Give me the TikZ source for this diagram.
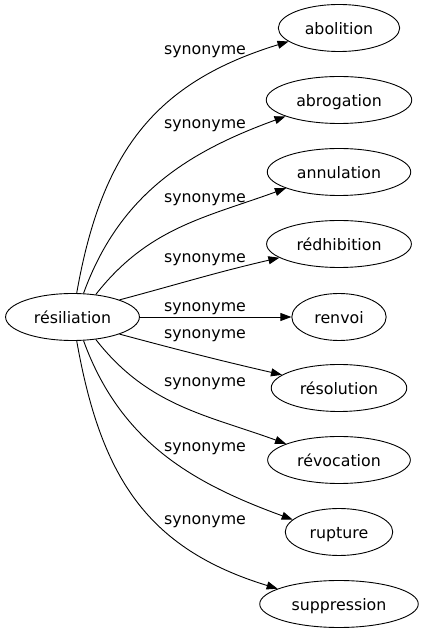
\documentclass[tikz,border=0pt]{standalone}
\usepackage{fontspec}
\setmainfont{DejaVu Sans}
\usetikzlibrary{shapes.geometric}
\usetikzlibrary{arrows.meta}

\begin{document}
\begin{tikzpicture}[x=1pt,y=1pt,
  mot/.style={draw,ellipse,line width=0.9pt,inner xsep=8.7pt,inner ysep=2pt,minimum height=47pt,text height=12.6pt,text depth=0pt,font=\fontsize{15.8}{19}\selectfont},
  syn/.style={-{Triangle[length=11pt,width=8pt]},line width=0.9pt},
  etiq/.style={anchor=base,inner sep=0pt,font=\fontsize{15.8}{19}\selectfont}]
\useasboundingbox (0,0) rectangle (421,635);

\node[mot] (resiliation) at (72.5,318) {résiliation};
\node[mot] (abolition) at (339,607) {abolition};
\node[mot] (abrogation) at (339,535) {abrogation};
\node[mot] (annulation) at (339,463) {annulation};
\node[mot] (redhibition) at (339,391) {rédhibition};
\node[mot] (renvoi) at (339,318) {renvoi};
\node[mot] (resolution) at (339,247) {résolution};
\node[mot] (revocation) at (339,175) {révocation};
\node[mot] (rupture) at (339,103) {rupture};
\node[mot] (suppression) at (339,31) {suppression};

\draw[syn] (resiliation.80) to[out=80,in=197,looseness=1.1] (abolition.195);
\draw[syn] (resiliation.65) to[out=70,in=200] (abrogation.197);
\draw[syn] (resiliation.44) to[out=52,in=200] (annulation.197);
\draw[syn] (resiliation.20) to[out=15,in=193] (redhibition.193);
\draw[syn] (resiliation) -- (renvoi);
\draw[syn] (resiliation.-20) to[out=-15,in=167] (resolution.167);
\draw[syn] (resiliation.-44) to[out=-52,in=160] (revocation.163);
\draw[syn] (resiliation.-65) to[out=-70,in=160] (rupture.165);
\draw[syn] (resiliation.-80) to[out=-80,in=163,looseness=1.1] (suppression.166);

\node[etiq] (s1) at (205,580) {synonyme};
\node[etiq] (s2) at (205,506) {synonyme};
\node[etiq] (s3) at (205,432) {synonyme};
\node[etiq] (s4) at (205,372) {synonyme};
\node[etiq] (s5) at (205,323) {synonyme};
\node[etiq] (s6) at (205,296) {synonyme};
\node[etiq] (s7) at (205,248) {synonyme};
\node[etiq] (s8) at (205,183) {synonyme};
\node[etiq] (s9) at (205,110) {synonyme};

\end{tikzpicture}
\end{document}
